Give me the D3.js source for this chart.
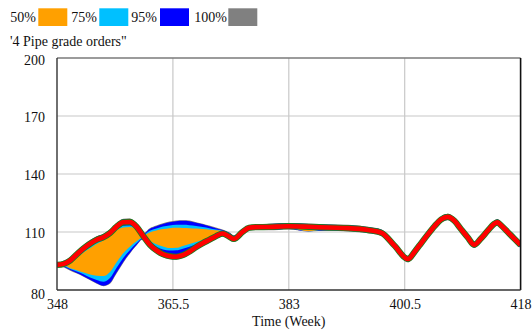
<!DOCTYPE html>
<html>
<head>
<meta charset="utf-8">
<script src="https://cdn.jsdelivr.net/npm/d3@7"></script>
<style>
  html, body { margin: 0; padding: 0; background: #fff; }
  svg { display: block; }
  svg text { font-family: "Liberation Serif", Tinos, "Times New Roman", Times, "DejaVu Serif", serif; fill: #111; font-size: 14px; }
</style>
</head>
<body>
<svg id="chart" width="532" height="333"></svg>
<script>
// Sensitivity run of Pipe grade orders (weekly), confidence bands + current run
const weeks = [348,349,350,351,352,353,354,355,356,357,358,359,360,361,362,363,364,365,366,367,368,369,370,371,372,373,374,374.7,376,377,378,380,383,386,389,392,395,397,399,401,402,403,404,405,406,407,408,409,410,411,412,413,414,414.5,415,416,417,418];

const current = [93,93.5,95.3,98.5,101.5,104,106,107.3,109.5,112.8,115,115.2,112.8,108,103.5,100.5,98.5,97.5,97.2,98,99.8,102.2,104.2,106,107.8,109.2,107.6,106.4,110,112.2,112.5,112.6,113,112.7,112.3,112,111,109.6,102.8,96,99.8,104.3,108.8,113,116.5,117.8,115.8,111.5,107.3,103.4,106.6,110.5,114.2,115,113.6,110.2,106.7,103.3];

const lo100 = [92.8,91.8,90,88.5,86.8,85,83.2,82,83.2,88.5,94,98.8,103,106.2,102,99,97,96,95.7,96.5,98.3,100.7,102.7,104.5,106.3,107.7,106.1,104.9,108.5,110.7,111,110.9,111.3,110.3,110.6,110.3,109.3,107.9,101.1,94.3,98.1,102.6,107.1,111.3,114.8,116.1,114.1,109.8,105.6,101.7,104.9,108.8,112.5,113.3,111.9,108.5,105,101.6];
const hi100 = [93.4,95.2,97.1,100.3,103.3,105.8,107.8,109.1,111.3,114.6,116.8,117,114.6,109.3,111.9,113.3,114.5,115.4,115.9,116.1,115.9,115.1,114.3,113.3,112.3,111.3,109.9,108.3,111.4,113.2,113.4,114.3,114.7,114.4,114,113.7,112.7,111.3,104.5,97.7,101.5,106,110.5,114.7,118.2,119.5,117.5,113.2,109,105.1,108.3,112.2,115.9,116.7,115.3,111.9,108.4,105];

const lo95 = [92.9,92,90.3,88.8,87.1,85.3,83.5,82.2,83.6,89,94.5,99.2,103.3,106.5,103,100,98,97,96.7,97.5,99.3,101.7,103.7,105.5,107.3,108.7,107.1,105.9,109.2,111.4,111.8,111.2,111.6,110.4,110.9,110.6,109.6,108.2,101.4,94.6,98.4,102.9,107.4,111.6,115.1,116.4,114.4,110.1,105.9,102,105.2,109.1,112.8,113.6,112.2,108.8,105.3,101.9];
const hi95 = [93.2,94.8,96.8,100,103,105.5,107.5,108.8,111,114.3,116.5,116.7,114.3,109,111.6,113,114.2,115.1,115.6,115.8,115.6,114.8,114,113,112,111,109.6,108,111.1,112.9,113.1,114.1,114.5,114.2,113.8,113.5,112.5,111.1,104.3,97.5,101.3,105.8,110.3,114.5,118,119.3,117.3,113,108.8,104.9,108.1,112,115.7,116.5,115.1,111.7,108.2,104.8];

const lo75 = [93,92.4,90.8,89.6,88.2,86.5,85.2,84.3,86.2,91.5,96.6,100.6,104.2,106.8,104.5,102.4,101,100.4,100.5,101.4,102.4,103.5,105,106.3,107.8,109,107.5,106.2,109.6,111.7,112,111.6,112,110.4,111.3,111,110,108.6,101.8,95,98.8,103.3,107.8,112,115.5,116.8,114.8,110.5,106.3,102.4,105.6,109.5,113.2,114,112.6,109.2,105.7,102.3];
const hi75 = [93,93.5,94.6,97.5,100.4,102.6,104.8,106.5,108.6,111.6,113.2,113.4,112.2,108.6,110.6,111.8,112.8,113.4,113.7,113.7,113.5,113.1,112.6,112,111.3,110.7,109.3,107.7,110.8,112.6,112.9,113.4,113.8,113.5,113.1,112.8,111.8,110.4,103.6,96.8,100.6,105.1,109.6,113.8,117.3,118.6,116.6,112.3,108.1,104.2,107.4,111.3,115,115.8,114.4,111,107.5,104.1];

const lo50 = [93,92.8,91.3,90.2,89,88,87.4,87.2,89.3,94.4,99,102.4,105.2,107.2,105.4,103.6,102.5,101.7,101.8,102.8,103.8,104.8,106,107.2,108.4,109.4,107.9,106.5,109.9,112,112.2,111.8,112.2,110.4,111.5,111.2,110.2,108.8,102,95.2,99,103.5,108,112.2,115.7,117,115,110.7,106.5,102.6,105.8,109.7,113.4,114.2,112.8,109.4,105.9,102.5];
const hi50 = [93,93,93.8,96.5,99.4,101.6,103.8,105.6,107.8,110.8,112.3,112.6,111.5,108.2,109.8,110.8,111.5,112,112.2,112.1,112,111.8,111.5,111.2,110.9,110.4,109,107.5,110.6,112.4,112.7,113.1,113.5,113.2,112.8,112.5,111.5,110.1,103.3,96.5,100.3,104.8,109.3,113.5,117,118.3,116.3,112,107.8,103.9,107.1,111,114.7,115.5,114.1,110.7,107.2,103.8];

const legendLabels = ["50%", "75%", "95%", "100%"];
const legendColors = ["#ffa000", "#00c0ff", "#0000ff", "#808080"];
const variableTitle = "'4 Pipe grade orders\"";
const xTicks = [348, 365.5, 383, 400.5, 418];
const yTicks = [80, 110, 140, 170, 200];
const xTitle = "Time (Week)";

const svg = d3.select("#chart");
const plotLeft = 57, plotRight = 520.6, plotTop = 58, plotBottom = 290;

const x = d3.scaleLinear().domain([348, 418]).range([plotLeft, plotRight]);
const y = d3.scaleLinear().domain([80, 200]).range([plotBottom, plotTop]);

// grid
const grid = svg.append("g").attr("stroke", "#c8c8c8").attr("stroke-width", 1.2);
grid.selectAll("line.h").data(yTicks.slice(1, -1)).join("line").attr("class", "h")
  .attr("x1", plotLeft).attr("x2", plotRight).attr("y1", d => y(d)).attr("y2", d => y(d));
grid.selectAll("line.v").data(xTicks.slice(1, -1)).join("line").attr("class", "v")
  .attr("y1", plotTop).attr("y2", plotBottom).attr("x1", d => x(d)).attr("x2", d => x(d));

// clip for plotted marks
svg.append("clipPath").attr("id", "plotClip").append("rect")
  .attr("x", plotLeft).attr("y", plotTop).attr("width", plotRight - plotLeft).attr("height", plotBottom - plotTop);
const plot = svg.append("g").attr("clip-path", "url(#plotClip)");

const bands = [
  { lo: lo100, hi: hi100, color: legendColors[3] },
  { lo: lo95, hi: hi95, color: legendColors[2] },
  { lo: lo75, hi: hi75, color: legendColors[1] },
  { lo: lo50, hi: hi50, color: legendColors[0] }
];
const curve = d3.curveMonotoneX;
bands.forEach(b => {
  const area = d3.area()
    .x((d, i) => x(weeks[i]))
    .y0((d, i) => y(b.lo[i]))
    .y1((d, i) => y(b.hi[i]))
    .curve(curve);
  plot.append("path").datum(weeks).attr("d", area).attr("fill", b.color);
});

const line = d3.line().x((d, i) => x(weeks[i])).y(d => y(d)).curve(curve);
plot.append("path").datum(current).attr("d", line)
  .attr("fill", "none").attr("stroke", "#1f7a1f").attr("stroke-width", 6.2)
  .attr("stroke-linejoin", "round");
plot.append("path").datum(current).attr("d", line)
  .attr("fill", "none").attr("stroke", "#ff0000").attr("stroke-width", 4.6)
  .attr("stroke-linejoin", "round");

// frame
svg.append("line").attr("x1", plotLeft).attr("x2", plotRight).attr("y1", plotTop).attr("y2", plotTop)
  .attr("stroke", "#7a7a7a").attr("stroke-width", 1.6);
svg.append("line").attr("x1", plotLeft).attr("x2", plotLeft).attr("y1", plotTop).attr("y2", plotBottom)
  .attr("stroke", "#333").attr("stroke-width", 1.4);
svg.append("line").attr("x1", plotRight).attr("x2", plotRight).attr("y1", plotTop).attr("y2", plotBottom)
  .attr("stroke", "#111").attr("stroke-width", 1.6);
svg.append("line").attr("x1", plotLeft).attr("x2", plotRight).attr("y1", plotBottom).attr("y2", plotBottom)
  .attr("stroke", "#333").attr("stroke-width", 1.4);

// axes (font settings come from the stylesheet)
const yAxis = svg.append("g").attr("transform", `translate(${plotLeft},0)`)
  .call(d3.axisLeft(y).tickValues(yTicks).tickSize(0).tickPadding(12).tickFormat(d3.format("d")))
  .attr("font-family", null).attr("font-size", null);
yAxis.select(".domain").remove();
// end labels are nudged inward vertically, the rest sit just below their gridline
yAxis.selectAll("text").attr("fill", null)
  .attr("dy", d => d === 80 ? "0.58em" : d === 200 ? "0.47em" : "0.4em");

const xAxis = svg.append("g").attr("transform", `translate(0,${plotBottom})`)
  .call(d3.axisBottom(x).tickValues(xTicks).tickSize(0).tickPadding(9).tickFormat(d => String(d)))
  .attr("font-family", null).attr("font-size", null);
xAxis.select(".domain").remove();
xAxis.selectAll("text").attr("fill", null);

svg.append("text").attr("x", (plotLeft + plotRight) / 2).attr("y", 326)
  .attr("text-anchor", "middle").text(xTitle);

// legend
const legendX = [[36, 38.3], [97, 99.3], [157, 160], [227, 228.3]];
legendLabels.forEach((lab, i) => {
  svg.append("text").attr("x", legendX[i][0]).attr("y", 22)
    .attr("text-anchor", "end").text(lab);
  svg.append("rect").attr("x", legendX[i][1]).attr("y", 8.3)
    .attr("width", 29).attr("height", 17.7).attr("fill", legendColors[i]);
});
svg.append("text").attr("x", 10).attr("y", 46).text(variableTitle);
</script>
</body>
</html>
